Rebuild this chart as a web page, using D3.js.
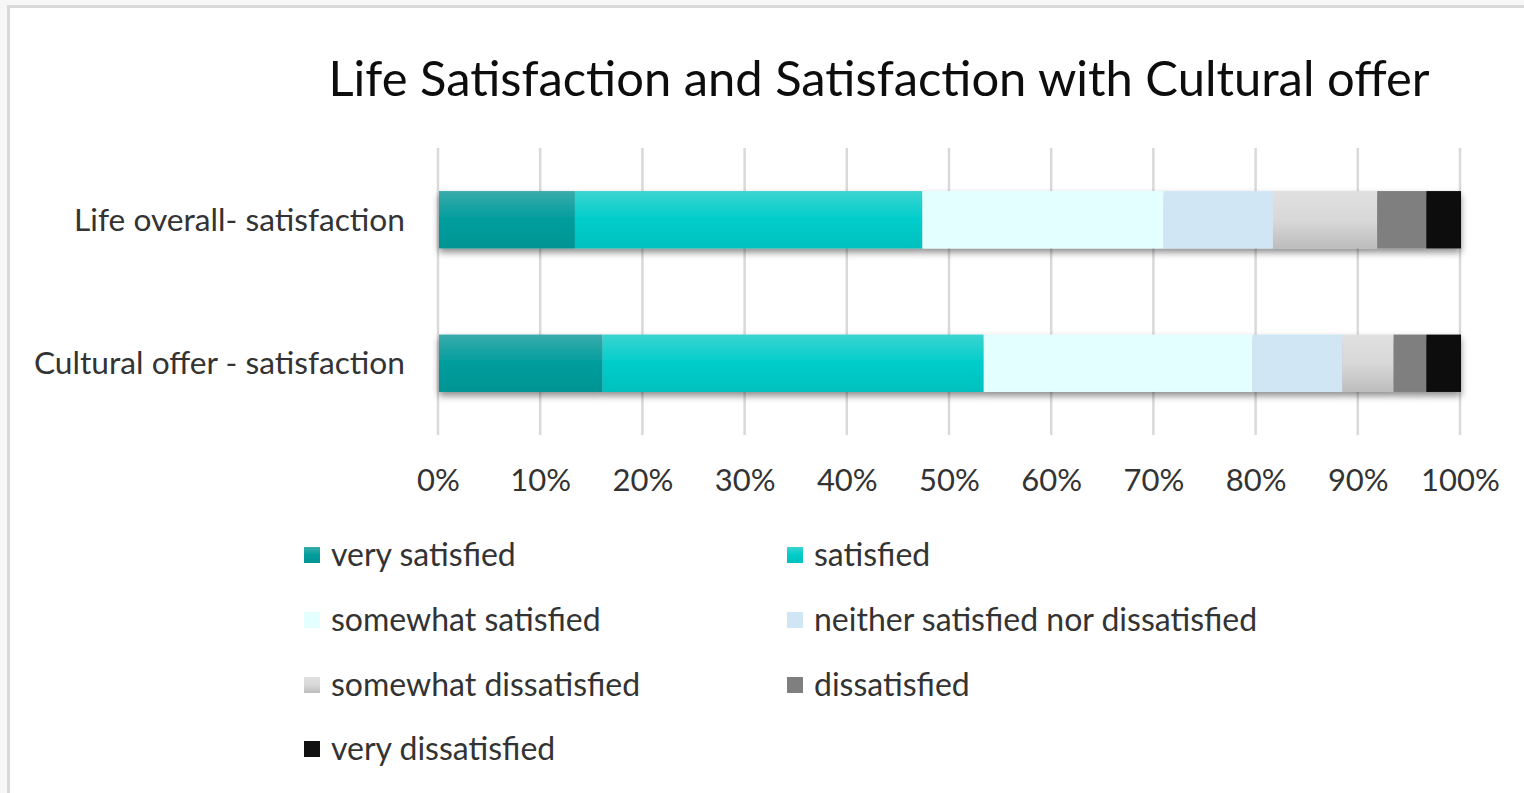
<!DOCTYPE html>
<html>
<head>
<meta charset="utf-8">
<script src="https://cdn.jsdelivr.net/npm/d3@7"></script>
<style>
  html, body { margin: 0; padding: 0; background: #f7f7f7; }
  svg { display: block; }
</style>
</head>
<body>
<svg id="chart" width="1524" height="793"></svg>
<script>
// ---- data ----
const categories = ["Life overall- satisfaction", "Cultural offer - satisfaction"];
const seriesNames = ["very satisfied", "satisfied", "somewhat satisfied",
  "neither satisfied nor dissatisfied", "somewhat dissatisfied", "dissatisfied", "very dissatisfied"];
const verySatisfied = [13.3, 16.0];
const satisfied = [34.0, 37.3];
const somewhatSatisfied = [23.6, 26.3];
const neither = [10.7, 8.8];
const somewhatDissatisfied = [10.2, 5.0];
const dissatisfied = [4.8, 3.2];
const veryDissatisfied = [3.4, 3.4];
const tickValues = [0, 10, 20, 30, 40, 50, 60, 70, 80, 90, 100];
const titleText = "Life Satisfaction and Satisfaction with Cultural offer";

const seriesValues = [verySatisfied, satisfied, somewhatSatisfied, neither,
  somewhatDissatisfied, dissatisfied, veryDissatisfied];

// table for d3.stack
const table = categories.map((c, i) => {
  const row = { category: c };
  seriesNames.forEach((s, j) => row[s] = seriesValues[j][i]);
  return row;
});

// ---- styles ----
const colors = {
  "very satisfied": ["#3aabab", "#009d9d", "#009494"],
  "satisfied": ["#3bd4d0", "#00cdcb", "#00c0bd"],
  "somewhat satisfied": ["#e3ffff", "#e3ffff", "#e3ffff"],
  "neither satisfied nor dissatisfied": ["#d1e6f5", "#d1e6f5", "#d1e6f5"],
  "somewhat dissatisfied": ["#e0e0e0", "#d8d8d8", "#bdbdbd"],
  "dissatisfied": ["#7f7f7f", "#7f7f7f", "#7f7f7f"],
  "very dissatisfied": ["#111111", "#111111", "#111111"]
};
const FONT = "Lato, 'Open Sans', sans-serif";
const TEXT = "#333333";

const svg = d3.select("#chart");
const defs = svg.append("defs");

seriesNames.forEach((s, i) => {
  const g = defs.append("linearGradient").attr("id", "grad" + i)
    .attr("x1", 0).attr("y1", 0).attr("x2", 0).attr("y2", 1);
  g.append("stop").attr("offset", "0%").attr("stop-color", colors[s][0]);
  g.append("stop").attr("offset", "50%").attr("stop-color", colors[s][1]);
  g.append("stop").attr("offset", "100%").attr("stop-color", colors[s][2]);
});

const shadow = defs.append("filter").attr("id", "shadow")
  .attr("x", "-5%").attr("y", "-20%").attr("width", "110%").attr("height", "160%");
shadow.append("feDropShadow").attr("dx", 0).attr("dy", 4).attr("stdDeviation", 3.5)
  .attr("flood-color", "#000").attr("flood-opacity", 0.45);

// chart frame
svg.append("rect").attr("x", 8.5).attr("y", 6.5).attr("width", 1530).attr("height", 800)
  .attr("fill", "#ffffff").attr("stroke", "#d9d9d9").attr("stroke-width", 3);

// scales
const x = d3.scaleLinear().domain([0, 100]).range([438, 1460]);
const y = d3.scaleBand().domain(categories).range([148, 435])
  .paddingInner(0.6).paddingOuter(0.3);

// gridlines
svg.append("g").selectAll("line").data(tickValues).join("line")
  .attr("x1", d => x(d)).attr("x2", d => x(d))
  .attr("y1", 148).attr("y2", 435)
  .attr("stroke", "#d9d9d9").attr("stroke-width", 2.5);

// stacked bars
const stack = d3.stack().keys(seriesNames)(table);
const barGroups = svg.append("g").selectAll("g").data(categories).join("g")
  .attr("filter", "url(#shadow)");
barGroups.each(function(cat, ci) {
  const g = d3.select(this);
  stack.forEach((layer, si) => {
    const d = layer[ci];
    g.append("rect")
      .attr("x", x(d[0]) + 1)
      .attr("y", y(cat))
      .attr("width", Math.max(0, x(d[1]) - x(d[0])))
      .attr("height", y.bandwidth())
      .attr("fill", `url(#grad${si})`);
  });
});

// x axis labels
const xAxis = d3.axisBottom(x).tickValues(tickValues).tickFormat(d => d + "%").tickSize(0).tickPadding(0);
const axG = svg.append("g").attr("transform", "translate(0,491)").call(xAxis);
axG.select(".domain").remove();
axG.selectAll("text").attr("dy", 0).attr("y", 0)
  .attr("font-family", FONT).attr("font-size", 31).attr("fill", TEXT);

// category labels
svg.append("g").selectAll("text").data(categories).join("text")
  .attr("x", 405).attr("y", d => y(d) + y.bandwidth() / 2)
  .attr("dy", "0.35em").attr("text-anchor", "end")
  .attr("font-family", FONT).attr("font-size", 31.7).attr("fill", TEXT)
  .text(d => d);

// title
svg.append("text").attr("x", 879).attr("y", 96).attr("text-anchor", "middle")
  .attr("font-family", FONT).attr("font-size", 48.9).attr("fill", "#0d0d0d")
  .text(titleText);

// legend
const legendCols = [304, 787];
const legendRows = [555, 620, 685, 749];
const lg = svg.append("g").selectAll("g").data(seriesNames).join("g")
  .attr("transform", (d, i) => `translate(${legendCols[i % 2]},${legendRows[Math.floor(i / 2)]})`);
lg.append("rect").attr("x", 0).attr("y", -8).attr("width", 16).attr("height", 16)
  .attr("fill", (d, i) => `url(#grad${i})`);
lg.append("text").attr("x", 27).attr("y", 0).attr("dy", "0.35em")
  .attr("font-family", FONT).attr("font-size", 32).attr("fill", TEXT)
  .text(d => d);
</script>
</body>
</html>
